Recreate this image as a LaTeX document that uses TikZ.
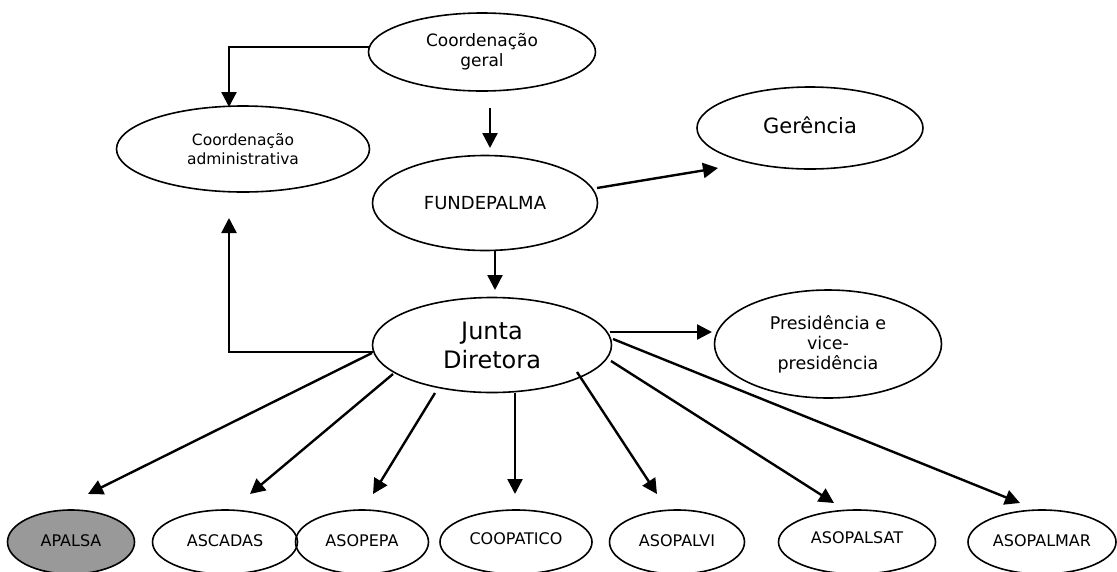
\documentclass[tikz,border=0pt]{standalone}
\usepackage{fontspec}
\setmainfont{DejaVu Sans}
\usetikzlibrary{shapes.geometric,arrows.meta}
\begin{document}
\begin{tikzpicture}[x=1pt,y=-1pt,
  ell/.style={draw=black,line width=1.6pt,ellipse,inner sep=0pt,align=center},
  conn/.style={line width=2.4pt,-{Triangle[length=15pt,width=15pt]}}]
\useasboundingbox (0,0) rectangle (1117,571);
% upper nodes
\node[ell,minimum width=227,minimum height=78,font=\fontsize{17}{20}\selectfont] (cg) at (482,52) {Coordenação\\geral};
\node[ell,minimum width=253,minimum height=86,font=\fontsize{15.5}{19}\selectfont] (ca) at (243,149) {Coordenação\\administrativa};
\node[ell,minimum width=225,minimum height=95,font=\fontsize{18}{21}\selectfont] (fu) at (485,203) {\raisebox{-7pt}{FUNDEPALMA}};
\node[ell,minimum width=226,minimum height=82,font=\fontsize{21}{24}\selectfont] (ge) at (810,128) {\raisebox{5pt}{Gerência}};
\node[ell,minimum width=239,minimum height=95,font=\fontsize{24}{29}\selectfont] (jd) at (492,345) {Junta\\Diretora};
\node[ell,minimum width=227,minimum height=108,font=\fontsize{17.5}{20}\selectfont] (pr) at (828,344) {Presidência e\\vice-\\presidência};
% bottom row
\begin{scope}[every node/.style={ell,minimum height=64,font=\fontsize{16}{18}\selectfont}]
\node[fill=black!40,minimum width=127] (b1) at (71,542) {\raisebox{3pt}{APALSA}};
\node[minimum width=145] (b2) at (225,542) {\raisebox{3pt}{ASCADAS}};
\node[minimum width=133] (b3) at (362,542) {\raisebox{3pt}{ASOPEPA}};
\node[minimum width=152] (b4) at (516,542) {\raisebox{6pt}{COOPATICO}};
\node[minimum width=135] (b5) at (677,542) {\raisebox{3pt}{ASOPALVI}};
\node[minimum width=157] (b6) at (857,542) {\raisebox{8pt}{ASOPALSAT}};
\node[minimum width=148] (b7) at (1042,542) {\raisebox{3pt}{ASOPALMAR}};
\end{scope}
% coordinates for free connector ends
\coordinate (cgL) at (369,47);
\coordinate (cgC) at (229,47);
\coordinate (caT) at (229,107);
\coordinate (cgB) at (490,108);
\coordinate (fuT) at (490,148);
\coordinate (fuR) at (597,188);
\coordinate (geL) at (718,168);
\coordinate (fuB) at (495,250);
\coordinate (jdT) at (495,290);
\coordinate (jdL) at (373,352);
\coordinate (jdC) at (229,352);
\coordinate (caB) at (229,218);
\coordinate (jdR) at (610,332);
\coordinate (prL) at (712,332);
\coordinate (s1) at (372,353);
\coordinate (t1) at (88,494);
\coordinate (s2) at (393,374);
\coordinate (t2) at (250,494);
\coordinate (s3) at (435,393);
\coordinate (t3) at (373,494);
\coordinate (s4) at (515,393);
\coordinate (t4) at (515,494);
\coordinate (s5) at (577,372);
\coordinate (t5) at (657,494);
\coordinate (s6) at (611,361);
\coordinate (t6) at (834,503);
\coordinate (s7) at (613,339);
\coordinate (t7) at (1020,503);
% connectors
\draw[conn] (cgL) -- (cgC) -- (caT);
\draw[conn] (cgB) -- (fuT);
\draw[conn] (fuR) -- (geL);
\draw[conn] (fuB) -- (jdT);
\draw[conn] (jdL) -- (jdC) -- (caB);
\draw[conn] (jdR) -- (prL);
\draw[conn] (s1) -- (t1);
\draw[conn] (s2) -- (t2);
\draw[conn] (s3) -- (t3);
\draw[conn] (s4) -- (t4);
\draw[conn] (s5) -- (t5);
\draw[conn] (s6) -- (t6);
\draw[conn] (s7) -- (t7);
\end{tikzpicture}
\end{document}
